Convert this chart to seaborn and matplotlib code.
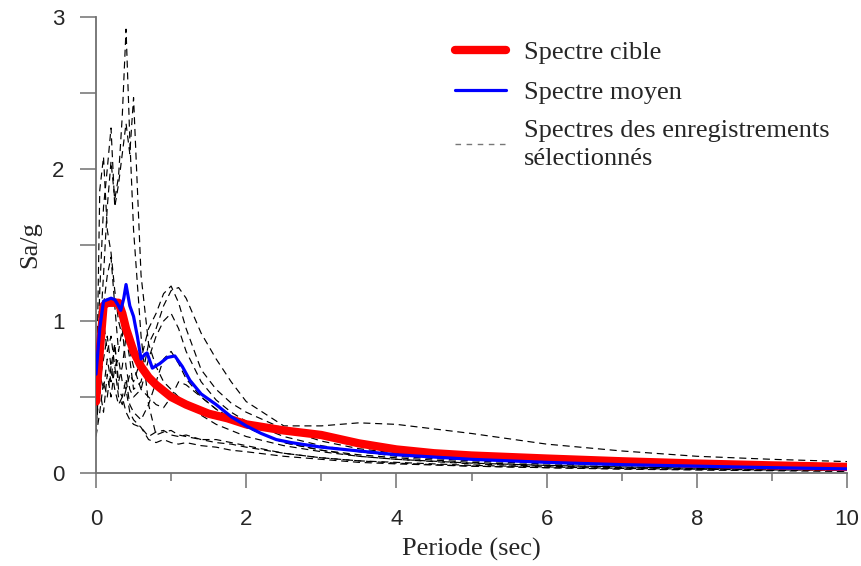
import numpy as np
import pandas as pd
import matplotlib
matplotlib.use("Agg")
import matplotlib.pyplot as plt
from matplotlib import font_manager
from matplotlib.ticker import MultipleLocator, FuncFormatter
from matplotlib.lines import Line2D
import seaborn as sns

# ---------------- data ----------------
periods = [0, 0.05, 0.1, 0.15, 0.2, 0.25, 0.3, 0.35, 0.4, 0.45, 0.5, 0.6, 0.7, 0.8,
           0.9, 1.0, 1.1, 1.2, 1.4, 1.6, 1.8, 2.0, 2.5, 3.0, 3.5, 4.0, 5.0, 6.0,
           7.0, 8.0, 9.0, 10.0]

rec1 = [0.45, 0.9, 1.3, 1.75, 2.05, 1.8, 1.95, 2.35, 2.92, 2.2, 1.6, 0.9, 0.45, 0.25,
        0.27, 0.28, 0.25, 0.24, 0.22, 0.22, 0.2, 0.18, 0.13, 0.1, 0.08, 0.065, 0.045,
        0.035, 0.028, 0.022, 0.018, 0.015]
rec2 = [0.4, 1.2, 1.75, 2.0, 2.27, 1.75, 1.9, 2.1, 2.3, 2.1, 2.47, 1.3, 0.85, 0.7,
        0.6, 0.55, 0.5, 0.45, 0.38, 0.32, 0.28, 0.24, 0.18, 0.14, 0.11, 0.09, 0.065,
        0.05, 0.04, 0.032, 0.027, 0.022]
rec3 = [0.3, 1.86, 2.08, 1.6, 1.45, 1.2, 1.0, 0.9, 1.0, 0.8, 0.7, 0.55, 0.5, 0.45,
        0.43, 0.5, 0.6, 0.58, 0.5, 0.42, 0.36, 0.3, 0.2, 0.15, 0.12, 0.1, 0.07,
        0.05, 0.04, 0.03, 0.025, 0.02]
rec4 = [0.5, 0.8, 1.0, 0.8, 0.9, 0.7, 0.75, 0.6, 0.55, 0.65, 0.6, 0.75, 0.95, 1.05,
        1.18, 1.23, 1.12, 0.95, 0.68, 0.55, 0.46, 0.4, 0.29, 0.21, 0.16, 0.13, 0.095,
        0.075, 0.06, 0.05, 0.04, 0.035]
rec5 = [0.35, 0.6, 0.75, 0.9, 0.7, 0.85, 0.6, 0.7, 0.9, 0.75, 0.55, 0.6, 0.85, 0.95,
        1.1, 1.2, 1.22, 1.15, 0.92, 0.75, 0.6, 0.47, 0.31, 0.31, 0.33, 0.32, 0.26,
        0.19, 0.145, 0.11, 0.09, 0.075]
rec6 = [0.25, 0.7, 1.1, 1.3, 1.42, 1.1, 0.8, 0.95, 0.7, 0.55, 0.5, 0.55, 0.75, 0.9,
        1.0, 1.05, 0.95, 0.8, 0.6, 0.48, 0.4, 0.34, 0.24, 0.18, 0.14, 0.11, 0.08,
        0.06, 0.05, 0.04, 0.035, 0.03]
rec7 = [0.45, 0.65, 0.55, 0.75, 0.6, 0.85, 0.55, 0.5, 0.62, 0.45, 0.4, 0.35, 0.45, 0.6,
        0.75, 0.8, 0.72, 0.62, 0.5, 0.42, 0.35, 0.3, 0.2, 0.15, 0.11, 0.09, 0.06,
        0.045, 0.035, 0.03, 0.025, 0.02]
rec8 = [0.24, 0.4, 0.6, 0.5, 0.7, 0.55, 0.45, 0.5, 0.4, 0.35, 0.32, 0.3, 0.24, 0.27,
        0.28, 0.25, 0.24, 0.25, 0.22, 0.2, 0.19, 0.17, 0.13, 0.1, 0.08, 0.07, 0.05,
        0.04, 0.03, 0.025, 0.02, 0.018]
rec9 = [0.3, 0.55, 0.4, 0.65, 0.5, 0.7, 0.5, 0.45, 0.55, 0.4, 0.35, 0.3, 0.22, 0.2,
        0.22, 0.2, 0.19, 0.2, 0.18, 0.17, 0.15, 0.14, 0.11, 0.09, 0.07, 0.06, 0.045,
        0.035, 0.025, 0.02, 0.015, 0.01]
records = [rec1, rec2, rec3, rec4, rec5, rec6, rec7, rec8, rec9]

target_T = [0, 0.05, 0.1, 0.15, 0.2, 0.25, 0.3, 0.35, 0.4, 0.5, 0.6, 0.7, 0.8, 1.0, 1.2,
            1.5, 1.75, 2.0, 2.5, 3.0, 3.5, 4.0, 4.5, 5.0, 6.0, 7.0, 8.0, 9.0, 10.0]
target_Sa = [0.47, 0.8, 1.1, 1.12, 1.12, 1.12, 1.12, 1.05, 0.95, 0.8, 0.7, 0.63, 0.58,
             0.5, 0.45, 0.39, 0.36, 0.32, 0.28, 0.25, 0.195, 0.155, 0.13, 0.115, 0.095,
             0.077, 0.062, 0.05, 0.04]

mean_T = [0, 0.05, 0.1, 0.2, 0.25, 0.3, 0.33, 0.37, 0.4, 0.45, 0.5, 0.55, 0.6, 0.65,
          0.68, 0.75, 0.85, 0.95, 1.05, 1.15, 1.25, 1.4, 1.6, 1.8, 2.0, 2.2, 2.4, 2.6,
          3.0, 3.5, 4.0, 5.0, 6.0, 7.0, 8.0, 9.0, 10.0]
mean_Sa = [0.65, 0.95, 1.13, 1.15, 1.14, 1.1, 1.07, 1.15, 1.24, 1.1, 1.03, 0.9, 0.75,
           0.78, 0.79, 0.69, 0.72, 0.76, 0.77, 0.7, 0.61, 0.52, 0.45, 0.37, 0.31, 0.26,
           0.22, 0.2, 0.17, 0.145, 0.12, 0.09, 0.07, 0.055, 0.045, 0.035, 0.027]

labels = ["Spectre cible", "Spectre moyen",
          "Spectres des enregistrements\nsélectionnés"]

# ---------------- style ----------------
sns.set_style("ticks")
serif = "Liberation Serif"
avail = {f.name for f in font_manager.fontManager.ttflist}
tick_font = "Liberation Sans Narrow" if "Liberation Sans Narrow" in avail else "Liberation Sans"
plt.rcParams["font.family"] = [serif, "DejaVu Sans"]

fig = plt.figure(figsize=(8.62, 5.66), dpi=100)
ax = fig.add_axes([96 / 862, 1 - 473 / 566, 751 / 862, 456 / 566])

rec_df = pd.DataFrame(
    [(t, v, i) for i, r in enumerate(records) for t, v in zip(periods, r)],
    columns=["T", "Sa", "rec"])
for i in range(len(records)):
    sub = rec_df[rec_df["rec"] == i]
    sns.lineplot(data=sub, x="T", y="Sa", ax=ax, color="black", linewidth=0.85,
                 estimator=None, sort=True, legend=False)
for ln in ax.lines:
    ln.set_dashes((6, 4))

tdf = pd.DataFrame({"T": target_T, "Sa": target_Sa})
mdf = pd.DataFrame({"T": mean_T, "Sa": mean_Sa})
sns.lineplot(data=tdf, x="T", y="Sa", ax=ax, color="#ff0000", linewidth=6,
             estimator=None, legend=False, solid_capstyle="round", zorder=3)
sns.lineplot(data=mdf, x="T", y="Sa", ax=ax, color="#0000ff", linewidth=2.3,
             estimator=None, legend=False, zorder=4)

ax.set_xlim(0, 10)
ax.set_ylim(0, 3)
ax.xaxis.set_major_locator(MultipleLocator(2))
ax.xaxis.set_minor_locator(MultipleLocator(1))
ax.yaxis.set_major_locator(MultipleLocator(0.5))
ax.yaxis.set_major_formatter(FuncFormatter(
    lambda v, p: f"{int(round(v))}" if abs(v - round(v)) < 1e-6 else ""))

spine_c = "#707070"
for s in ["top", "right"]:
    ax.spines[s].set_visible(False)
for s in ["left", "bottom"]:
    ax.spines[s].set_color(spine_c)
    ax.spines[s].set_linewidth(1.3)
ax.tick_params(axis="x", which="major", length=11, width=1.1, color=spine_c, pad=15,
               labelsize=16)
ax.tick_params(axis="x", which="minor", length=6, width=1.1, color=spine_c)
ax.tick_params(axis="y", which="major", length=11.5, width=1.1, color=spine_c, pad=11,
               labelsize=16)
for lab in ax.get_xticklabels() + ax.get_yticklabels():
    lab.set_fontfamily(tick_font)

ax.set_xlabel("Periode (sec)", fontsize=19, family=serif)
ax.set_ylabel("Sa/g", fontsize=19, family=serif)
ax.xaxis.set_label_coords(0.5, -0.142)
ax.yaxis.set_label_coords(-0.073, 0.5)

handles = [Line2D([], [], color="#ff0000", lw=6, solid_capstyle="round"),
           Line2D([], [], color="#0000ff", lw=2.3),
           Line2D([], [], color="#777777", lw=1.0, dashes=(4, 4))]
leg = ax.legend(handles, labels, loc="upper left", bbox_to_anchor=(455 / 862, 1 - 41 / 566),
                bbox_transform=fig.transFigure, frameon=False, fontsize=19,
                handlelength=1.95, handletextpad=0.65, labelspacing=0.6, borderpad=0,
                borderaxespad=0)
for t in leg.get_texts():
    t.set_linespacing(1.4)

fig.savefig("out.png", dpi=100)
